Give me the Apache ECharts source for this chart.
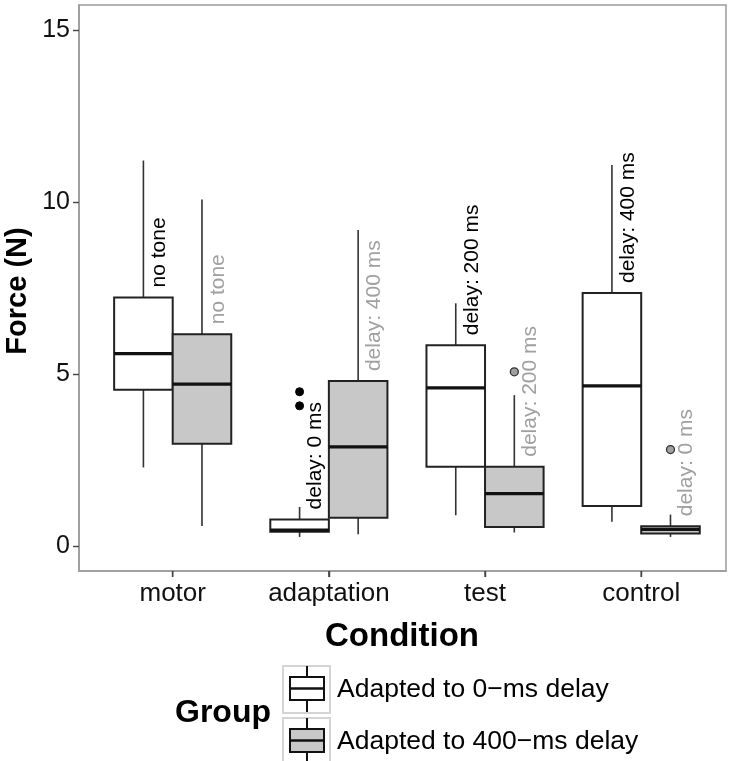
<!DOCTYPE html>
<html><head><meta charset="utf-8">
<script src="https://cdn.jsdelivr.net/npm/echarts@6/dist/echarts.min.js"></script>
<style>html,body{margin:0;padding:0;background:#fff}#c{width:737px;height:761px}</style>
</head><body><div id="c"></div>
<script>
// ---- data ----
const categories = ['motor', 'adaptation', 'test', 'control'];
const groupNames = ['Adapted to 0\u2212ms delay', 'Adapted to 400\u2212ms delay'];
// [whisker low, Q1, median, Q3, whisker high]
const box0ms = [
  [2.29, 4.55, 5.60, 7.23, 11.21],
  [0.27, 0.42, 0.47, 0.78, 1.14],
  [0.90, 2.31, 4.60, 5.84, 7.06],
  [0.71, 1.17, 4.66, 7.36, 11.08]
];
const box400ms = [
  [0.59, 2.98, 4.71, 6.16, 10.08],
  [0.35, 0.83, 2.89, 4.80, 9.19],
  [0.40, 0.56, 1.53, 2.31, 4.39],
  [0.27, 0.37, 0.49, 0.58, 0.92]
];
// [category index, value]
const outliers0ms = [[1, 4.08], [1, 4.49]];
const outliers400ms = [[2, 5.07], [3, 2.81]];
const labels0ms = ['no tone', 'delay: 0 ms', 'delay: 200 ms', 'delay: 400 ms'];
const labels400ms = ['no tone', 'delay: 400 ms', 'delay: 200 ms', 'delay: 0 ms'];
const yTicks = [0, 5, 10, 15];
const xTicks = [1, 2, 3, 4];

// ---- style / layout ----
const FONT = '"Liberation Sans", Arial, Helvetica, sans-serif';
const DODGE = 0.1875, HALF = 0.1875;
const Y_MIN = -0.72, Y_MAX = 15.73;
const GRID = {left: 79, top: 5, right: 11, bottom: 190};
const fills = ['#ffffff', '#c8c8c8'];
const labelColors = ['#000000', '#a0a0a0'];

const chart = echarts.init(document.getElementById('c'), null, {renderer: 'canvas'});

function boxRenderer(dodge, fill) {
  return function (params, api) {
    const c = api.value(0);
    const lo = api.value(1), q1 = api.value(2), med = api.value(3), q3 = api.value(4), hi = api.value(5);
    const xc = c + dodge;
    const tl = api.coord([xc - HALF, q3]);
    const br = api.coord([xc + HALF, q1]);
    const pm = api.coord([xc, med]);
    const ph = api.coord([xc, hi]);
    const pl = api.coord([xc, lo]);
    return {
      type: 'group',
      children: [
        {type: 'line', shape: {x1: pm[0], y1: ph[1], x2: pm[0], y2: tl[1]}, style: {stroke: '#333', lineWidth: 1.6}},
        {type: 'line', shape: {x1: pm[0], y1: br[1], x2: pm[0], y2: pl[1]}, style: {stroke: '#333', lineWidth: 1.6}},
        {type: 'rect', shape: {x: tl[0], y: tl[1], width: br[0] - tl[0], height: br[1] - tl[1]}, style: {fill: fill, stroke: '#222', lineWidth: 2}},
        {type: 'line', shape: {x1: tl[0], y1: pm[1], x2: br[0], y2: pm[1]}, style: {stroke: '#111', lineWidth: 3.2}}
      ]
    };
  };
}

function labelRenderer(dodge, texts, color) {
  return function (params, api) {
    const c = api.value(0), q3 = api.value(1);
    const p = api.coord([c + dodge, q3]);
    return {
      type: 'text',
      x: p[0] + 16,
      y: p[1] - 10,
      rotation: Math.PI / 2,
      style: {
        text: texts[params.dataIndex],
        fill: color,
        font: '21px ' + FONT,
        textAlign: 'left',
        textVerticalAlign: 'middle'
      }
    };
  };
}

function xTickRenderer(params, api) {
  const p = api.coord([api.value(0), Y_MIN]);
  return {type: 'line', shape: {x1: p[0], y1: p[1], x2: p[0], y2: p[1] + 6}, style: {stroke: '#444', lineWidth: 1.4}};
}

const boxData0 = categories.map((_, i) => [i + 1].concat(box0ms[i]));
const boxData1 = categories.map((_, i) => [i + 1].concat(box400ms[i]));
const lab0 = categories.map((_, i) => [i + 1, box0ms[i][3]]);
const lab1 = categories.map((_, i) => [i + 1, box400ms[i][3]]);
const out0 = outliers0ms.map(d => [d[0] + 1 - DODGE, d[1]]);
const out1 = outliers400ms.map(d => [d[0] + 1 + DODGE, d[1]]);

const legendKey = (y, fill) => ({
  type: 'group', children: [
    {type: 'rect', shape: {x: 283, y: y - 23, width: 47, height: 47}, style: {fill: '#fff', stroke: '#d4d4d4', lineWidth: 2}},
    {type: 'line', shape: {x1: 307, y1: y - 23, x2: 307, y2: y - 12}, style: {stroke: '#111', lineWidth: 2}},
    {type: 'line', shape: {x1: 307, y1: y + 11, x2: 307, y2: y + 23}, style: {stroke: '#111', lineWidth: 2}},
    {type: 'rect', shape: {x: 290, y: y - 12, width: 34, height: 23}, style: {fill: fill, stroke: '#111', lineWidth: 2}},
    {type: 'line', shape: {x1: 290, y1: y - 0.5, x2: 324, y2: y - 0.5}, style: {stroke: '#111', lineWidth: 2.4}}
  ]
});

chart.setOption({
  animation: false,
  backgroundColor: '#fff',
  grid: Object.assign({show: true, borderColor: '#9a9a9a', borderWidth: 1.5, backgroundColor: 'transparent', containLabel: false}, GRID),
  xAxis: {
    type: 'value', min: 0.4, max: 4.543,
    splitLine: {show: false},
    axisLine: {show: true, onZero: false, lineStyle: {color: '#9a9a9a', width: 1.5}},
    axisTick: {show: true, customValues: xTicks, length: 6, lineStyle: {color: '#444', width: 1.4}},
    axisLabel: {customValues: xTicks, margin: 10, color: '#111', fontSize: 26, fontFamily: FONT,
      formatter: v => categories[Math.round(v) - 1] || ''}
  },
  yAxis: {
    type: 'value', min: Y_MIN, max: Y_MAX,
    splitLine: {show: false},
    axisLine: {show: true, onZero: false, lineStyle: {color: '#9a9a9a', width: 1.5}},
    axisTick: {show: true, customValues: yTicks, length: 6, lineStyle: {color: '#444', width: 1.4}},
    axisLabel: {customValues: yTicks, margin: 9, color: '#111', fontSize: 25, fontFamily: FONT}
  },
  series: [
    {type: 'custom', name: groupNames[0], data: boxData0, encode: {x: 0, y: [1, 2, 3, 4, 5]}, renderItem: boxRenderer(-DODGE, fills[0]), z: 2},
    {type: 'custom', name: groupNames[1], data: boxData1, encode: {x: 0, y: [1, 2, 3, 4, 5]}, renderItem: boxRenderer(DODGE, fills[1]), z: 2},
    {type: 'custom', data: lab0, encode: {x: 0, y: 1}, renderItem: labelRenderer(-DODGE, labels0ms, labelColors[0]), clip: false, z: 3},
    {type: 'custom', data: lab1, encode: {x: 0, y: 1}, renderItem: labelRenderer(DODGE, labels400ms, labelColors[1]), clip: false, z: 3},
    {type: 'custom', data: xTicks.map(v => [v]), encode: {x: 0}, renderItem: xTickRenderer, clip: false, silent: true, z: 5},
    {type: 'scatter', data: out0, symbol: 'circle', symbolSize: 8, itemStyle: {color: '#000', borderColor: '#000', borderWidth: 1, opacity: 1}, z: 4},
    {type: 'scatter', data: out1, symbol: 'circle', symbolSize: 8, itemStyle: {color: '#a0a0a0', borderColor: '#333', borderWidth: 1.3, opacity: 1}, z: 4}
  ],
  graphic: [
    {type: 'text', x: 18, y: 291, rotation: Math.PI / 2,
      style: {text: 'Force (N)', font: 'bold 29px ' + FONT, fill: '#000', textAlign: 'center', textVerticalAlign: 'middle'}},
    {type: 'text', x: 402, y: 637,
      style: {text: 'Condition', font: 'bold 33px ' + FONT, fill: '#000', textAlign: 'center', textVerticalAlign: 'middle'}},
    {type: 'text', x: 175, y: 713,
      style: {text: 'Group', font: 'bold 32px ' + FONT, fill: '#000', textAlign: 'left', textVerticalAlign: 'middle'}},
    legendKey(689, fills[0]),
    legendKey(741, fills[1]),
    {type: 'text', x: 337, y: 690,
      style: {text: groupNames[0], font: '26.5px ' + FONT, fill: '#000', textAlign: 'left', textVerticalAlign: 'middle'}},
    {type: 'text', x: 337, y: 742,
      style: {text: groupNames[1], font: '26.5px ' + FONT, fill: '#000', textAlign: 'left', textVerticalAlign: 'middle'}}
  ]
});
</script>
</body></html>
